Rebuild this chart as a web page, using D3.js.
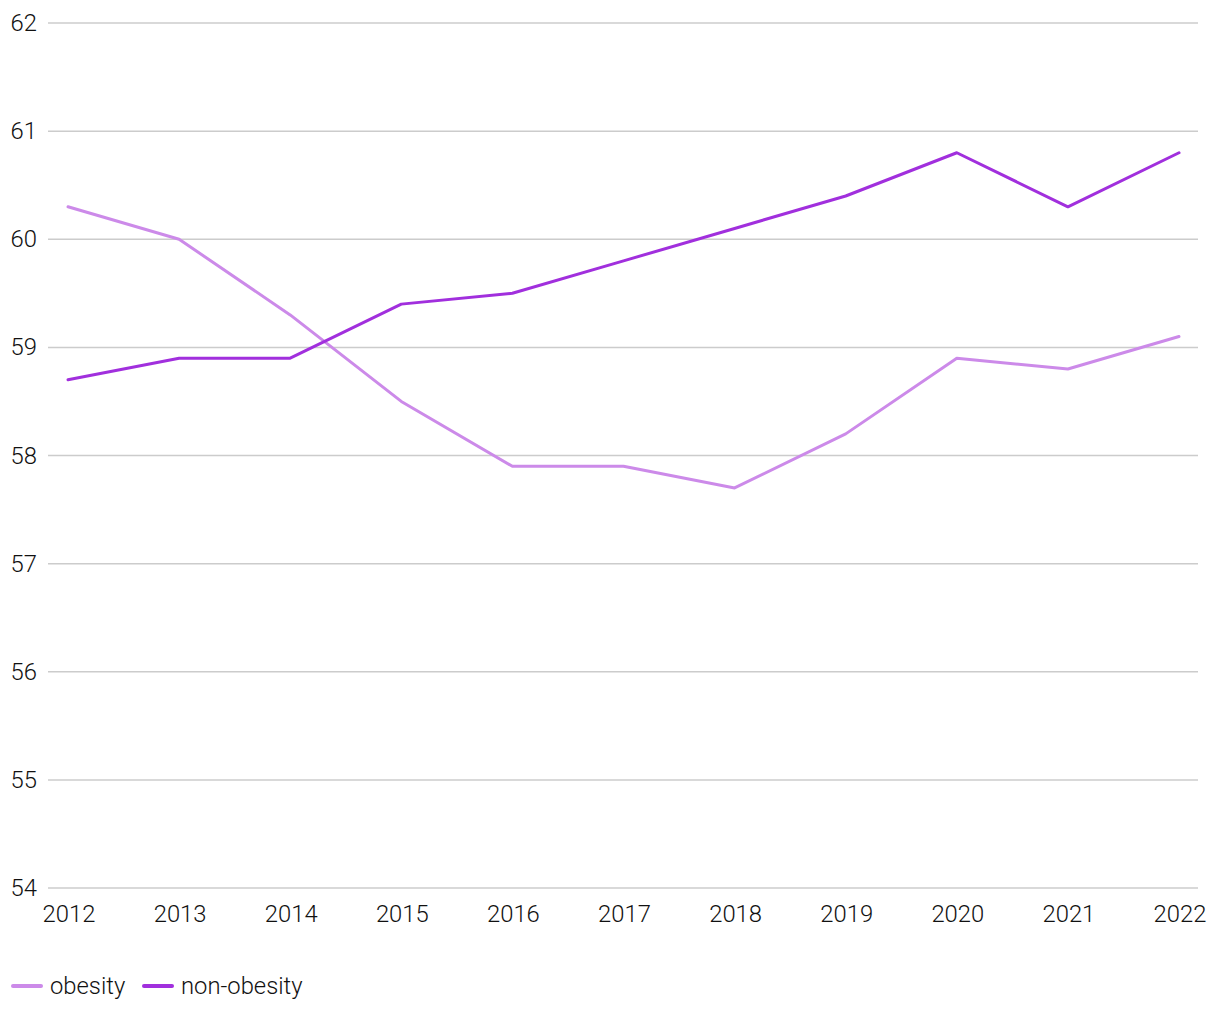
<!DOCTYPE html>
<html>
<head>
<meta charset="utf-8">
<script src="https://cdn.jsdelivr.net/npm/d3@7"></script>
<style>
  body { margin: 0; background: #fff; }
  text { font-family: Roboto, sans-serif; font-weight: 300; fill: #111; }
</style>
</head>
<body>
<svg id="chart" width="1220" height="1020"></svg>
<script>
var years = [2012, 2013, 2014, 2015, 2016, 2017, 2018, 2019, 2020, 2021, 2022]
var obesity = [60.3, 60.0, 59.3, 58.5, 57.9, 57.9, 57.7, 58.2, 58.9, 58.8, 59.1]
var nonObesity = [58.7, 58.9, 58.9, 59.4, 59.5, 59.8, 60.1, 60.4, 60.8, 60.3, 60.8]
var yTicks = [54, 55, 56, 57, 58, 59, 60, 61, 62]

var series = [
  {name: "obesity", values: obesity, color: "#cc8ae9"},
  {name: "non-obesity", values: nonObesity, color: "#a12fdd"}
]

var svg = d3.select("#chart")

var x = d3.scalePoint().domain(years).range([68, 1179])
var y = d3.scaleLinear().domain([54, 62]).range([888, 23])

// gridlines
svg.append("g")
  .selectAll("line")
  .data(yTicks)
  .enter()
  .append("line")
  .attr("x1", 48)
  .attr("x2", 1198)
  .attr("y1", function(d) { return y(d) })
  .attr("y2", function(d) { return y(d) })
  .attr("stroke", "#cccccc")
  .attr("stroke-width", 1.5)

// y labels
svg.append("g")
  .selectAll("text")
  .data(yTicks)
  .enter()
  .append("text")
  .attr("x", 37)
  .attr("y", function(d) { return y(d) + 8 })
  .attr("text-anchor", "end")
  .style("font-size", "23.8px")
  .text(function(d) { return d })

// x labels
svg.append("g")
  .selectAll("text")
  .data(years)
  .enter()
  .append("text")
  .attr("x", function(d) { return x(d) + 1 })
  .attr("y", 922)
  .attr("text-anchor", "middle")
  .style("font-size", "23.8px")
  .text(function(d) { return d })

var line = d3.line()
  .x(function(d, i) { return x(years[i]) })
  .y(function(d) { return y(d) })

svg.append("g")
  .selectAll("path")
  .data(series)
  .enter()
  .append("path")
  .attr("d", function(d) { return line(d.values) })
  .attr("fill", "none")
  .attr("stroke", function(d) { return d.color })
  .attr("stroke-width", 3)
  .attr("stroke-linejoin", "round")
  .attr("stroke-linecap", "round")

// legend
var legendX = [12, 143]
var legend = svg.append("g")
  .selectAll("g")
  .data(series)
  .enter()
  .append("g")
  .attr("transform", function(d, i) { return "translate(" + legendX[i] + ",986)" })

legend.append("line")
  .attr("x1", 1).attr("x2", 29)
  .attr("stroke", function(d) { return d.color })
  .attr("stroke-width", 4)
  .attr("stroke-linecap", "round")

legend.append("text")
  .attr("x", 38)
  .attr("y", 8)
  .style("font-size", "23.8px")
  .text(function(d) { return d.name })
</script>
</body>
</html>
